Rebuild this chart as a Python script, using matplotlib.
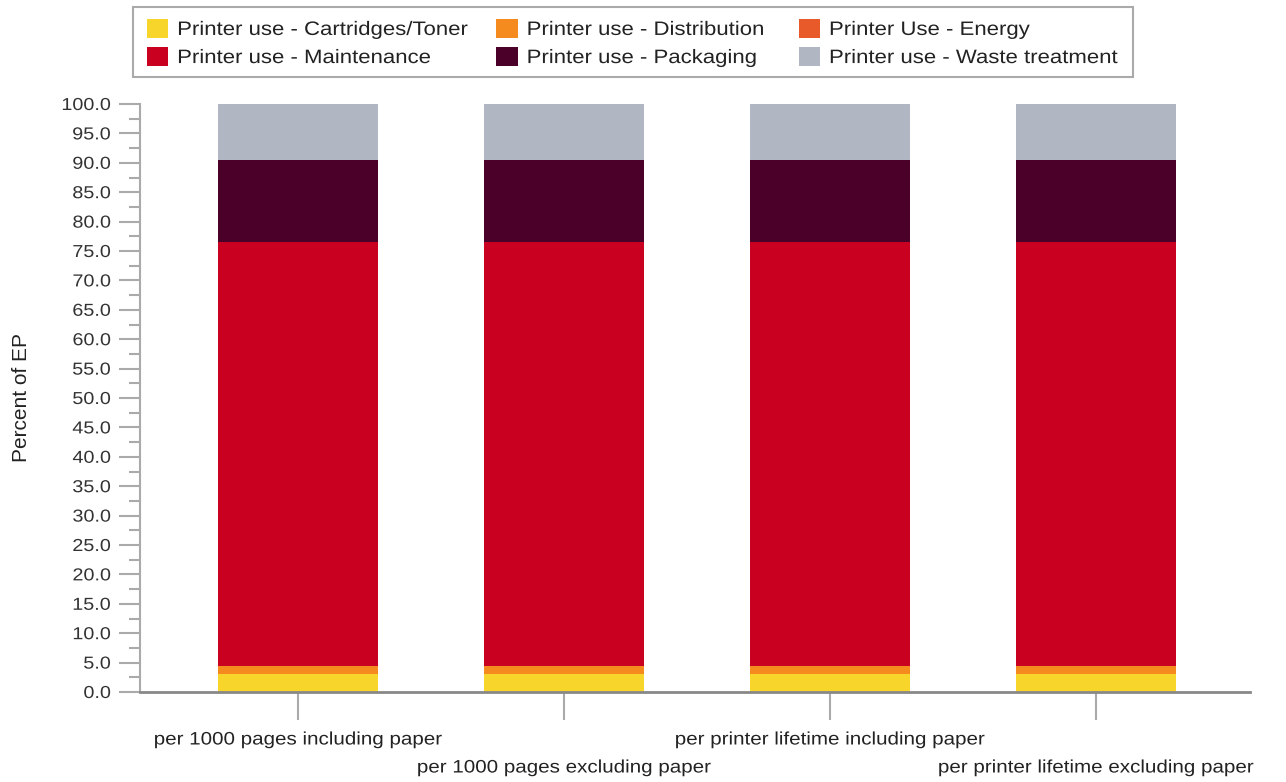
import matplotlib
matplotlib.use("Agg")
import matplotlib.pyplot as plt
from matplotlib.ticker import MultipleLocator
from matplotlib.patheffects import AbstractPathEffect
from matplotlib.transforms import Affine2D
from matplotlib.patches import Rectangle
import numpy as np

plt.rcParams['font.family'] = ['Liberation Sans', 'DejaVu Sans']

categories = ["per 1000 pages including paper", "per 1000 pages excluding paper",
              "per printer lifetime including paper", "per printer lifetime excluding paper"]
series_names = ["Printer use - Cartridges/Toner", "Printer use - Distribution", "Printer Use - Energy",
                "Printer use - Maintenance", "Printer use - Packaging", "Printer use - Waste treatment"]
cartridges = [3.0, 3.0, 3.0, 3.0]
distribution = [1.4, 1.4, 1.4, 1.4]
energy = [0.05, 0.05, 0.05, 0.05]
maintenance = [72.1, 72.1, 72.1, 72.1]
packaging = [14.0, 14.0, 14.0, 14.0]
waste = [9.45, 9.45, 9.45, 9.45]
colors = ["#F7D52A", "#F58A1F", "#E85A2A", "#C9001F", "#4A0029", "#B0B7C3"]
ytick_values = list(range(0, 101, 5))

series = [cartridges, distribution, energy, maintenance, packaging, waste]


class HStretch(AbstractPathEffect):
    """Stretch text horizontally (along its baseline) keeping its alignment."""
    def __init__(self, sx, frac=0.0):
        super().__init__()
        self.sx = sx
        self.frac = frac

    def draw_path(self, renderer, gc, tpath, affine, rgbFace=None):
        w = tpath.get_extents().x1
        t = Affine2D().scale(self.sx, 1).translate(-(self.sx - 1) * w * self.frac, 0) + affine
        renderer.draw_path(gc, tpath, t, rgbFace)


SX = 1.14
W, H = 1286, 782
fig = plt.figure(figsize=(W / 100, H / 100), dpi=100)
ax = fig.add_axes([140 / W, 1 - 692 / H, (1250 - 140) / W, (692 - 104) / H])

x = np.arange(len(categories))
bottom = np.zeros(len(categories))
handles = []
for name, vals, c in zip(series_names, series, colors):
    h = ax.bar(x, vals, width=0.6, bottom=bottom, color=c, label=name, linewidth=0)
    handles.append(h)
    bottom += np.array(vals)

ax.set_xlim(-0.594, 3.58)
ax.set_ylim(0, 100)
ax.yaxis.set_minor_locator(MultipleLocator(2.5))
ax.set_yticks(ytick_values)
ax.set_yticklabels([f"{v:.1f}" for v in ytick_values], fontsize=12.5, color="#333333",
                   path_effects=[HStretch(SX, 1.0)])
ax.tick_params(axis='y', which='major', length=15, width=1.5, color="#AAAAAA", pad=6)
ax.tick_params(axis='y', which='minor', length=8, width=1.5, color="#AAAAAA")

ax.set_xticks(x)
ax.set_xticklabels([])
ax.tick_params(axis='x', length=20, width=1.5, color="#AAAAAA")
for i, lab in enumerate(categories):
    yoff = 740 if i % 2 == 0 else 768
    ax.annotate(lab, xy=(i, 0), xycoords=('data', 'axes fraction'),
                xytext=(0, -(yoff - 692) * 0.72), textcoords='offset points',
                ha='center', va='center', fontsize=13, color="#222222",
                path_effects=[HStretch(SX, 0.5)])

for s in ['top', 'right']:
    ax.spines[s].set_visible(False)
ax.spines['left'].set_color("#AAAAAA")
ax.spines['left'].set_linewidth(1.5)
ax.spines['bottom'].set_color("#888888")
ax.spines['bottom'].set_linewidth(2)

ax.set_ylabel("Percent of EP", fontsize=15, color="#222222")
ax.yaxis.set_label_coords((31 - 140) / 1110, 0.5)

order = [0, 3, 1, 4, 2, 5]
leg = fig.legend(handles=[handles[k] for k in order], labels=[series_names[k] for k in order],
                 ncol=3, loc='upper left', bbox_to_anchor=(133 / W, 1 - 5 / H),
                 borderaxespad=0, fontsize=14, frameon=False,
                 handlelength=1.1, handleheight=1.1, handletextpad=0.45,
                 columnspacing=3.2, labelspacing=0.42, borderpad=0.72)
for t in leg.get_texts():
    t.set_path_effects([HStretch(SX, 0.0)])
    t.set_color("#222222")

fig.patches.append(Rectangle((133 / W, 1 - 77 / H), 1000 / W, 70 / H, transform=fig.transFigure,
                             fill=False, edgecolor="#AAAAAA", linewidth=1.5, zorder=0))

fig.savefig("out.png", dpi=100)
